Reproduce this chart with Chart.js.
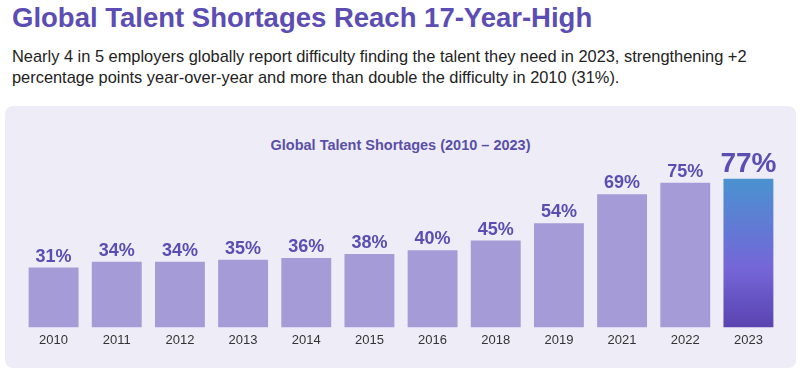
<!DOCTYPE html>
<html>
<head>
<meta charset="utf-8">
<script src="https://cdn.jsdelivr.net/npm/chart.js@4.4.1/dist/chart.umd.min.js"></script>
<style>
  body { margin: 0; width: 800px; height: 371px; background: #fff; font-family: "Liberation Sans", Arial, sans-serif; position: relative; overflow: hidden; }
  h1 { position: absolute; left: 12px; top: 2px; margin: 0; font-size: 27.5px; font-weight: bold; color: #5b4db3; }
  p.sub { position: absolute; left: 12px; top: 46px; margin: 0; font-size: 16.4px; line-height: 21px; color: #222; width: 785px; }
  .panel { position: absolute; left: 5px; top: 106px; width: 791px; height: 262px; background: #eeedf7; border-radius: 8px; }
  .panel h2 { position: absolute; left: 0; right: 0; top: 31px; margin: 0; text-align: center; font-size: 14.5px; font-weight: bold; color: #5a4fa8; }
  canvas { position: absolute; left: 0; top: 0; }
</style>
</head>
<body>
<h1>Global Talent Shortages Reach 17-Year-High</h1>
<p class="sub">Nearly 4 in 5 employers globally report difficulty finding the talent they need in 2023, strengthening +2 percentage points year-over-year and more than double the difficulty in 2010 (31%).</p>
<div class="panel">
  <h2>Global Talent Shortages (2010 – 2023)</h2>
  <canvas id="chart" width="791" height="262"></canvas>
</div>
<script>
// ================= DATA =================
const years = ["2010", "2011", "2012", "2013", "2014", "2015", "2016", "2018", "2019", "2021", "2022", "2023"];
const shortage = [31, 34, 34, 35, 36, 38, 40, 45, 54, 69, 75, 77];

// ================= LABELS ON BARS =================
const valueLabels = {
    id: "valueLabels",
    afterDatasetsDraw(chart) {
        const ctx = chart.ctx;
        const meta = chart.getDatasetMeta(0);
        ctx.save();
        ctx.textAlign = "center";
        ctx.textBaseline = "bottom";
        ctx.fillStyle = "#5b4db3";
        meta.data.forEach((bar, i) => {
            const last = i === meta.data.length - 1;
            ctx.font = "bold " + (last ? 28 : 18) + "px 'Liberation Sans', Arial, sans-serif";
            ctx.fillText(shortage[i] + "%", bar.x, bar.y - (last ? 1 : 2));
        });
        ctx.restore();
    }
};

// last bar gets the blue -> purple gradient
function barColor(context) {
    const chart = context.chart;
    const area = chart.chartArea;
    const yScale = chart.scales.y;
    if (context.dataIndex !== shortage.length - 1 || !area || !yScale) return "#a59bd6";
    const top = yScale.getPixelForValue(shortage[context.dataIndex]);
    if (!isFinite(top) || !isFinite(area.bottom)) return "#7566d8";
    const g = chart.ctx.createLinearGradient(0, top, 0, area.bottom);
    g.addColorStop(0, "#4a92d0");
    g.addColorStop(0.6, "#7566d8");
    g.addColorStop(1, "#5943b0");
    return g;
}

// ================= CHART =================
new Chart(document.getElementById("chart"), {
    type: "bar",
    data: {
        labels: years,
        datasets: [{
            data: shortage,
            backgroundColor: barColor,
            barPercentage: 0.79,
            categoryPercentage: 1
        }]
    },
    options: {
        responsive: false,
        animation: false,
        layout: { padding: { left: 17, right: 16, top: 67, bottom: 15 } },
        plugins: { legend: { display: false }, tooltip: { enabled: false } },
        scales: {
            x: {
                grid: { display: false, drawTicks: false },
                border: { display: false },
                ticks: { color: "#333", font: { size: 13, family: "'Liberation Sans', Arial, sans-serif" }, padding: 5 }
            },
            y: { display: false, min: 0, max: 80 }
        }
    },
    plugins: [valueLabels]
});
</script>
</body>
</html>
